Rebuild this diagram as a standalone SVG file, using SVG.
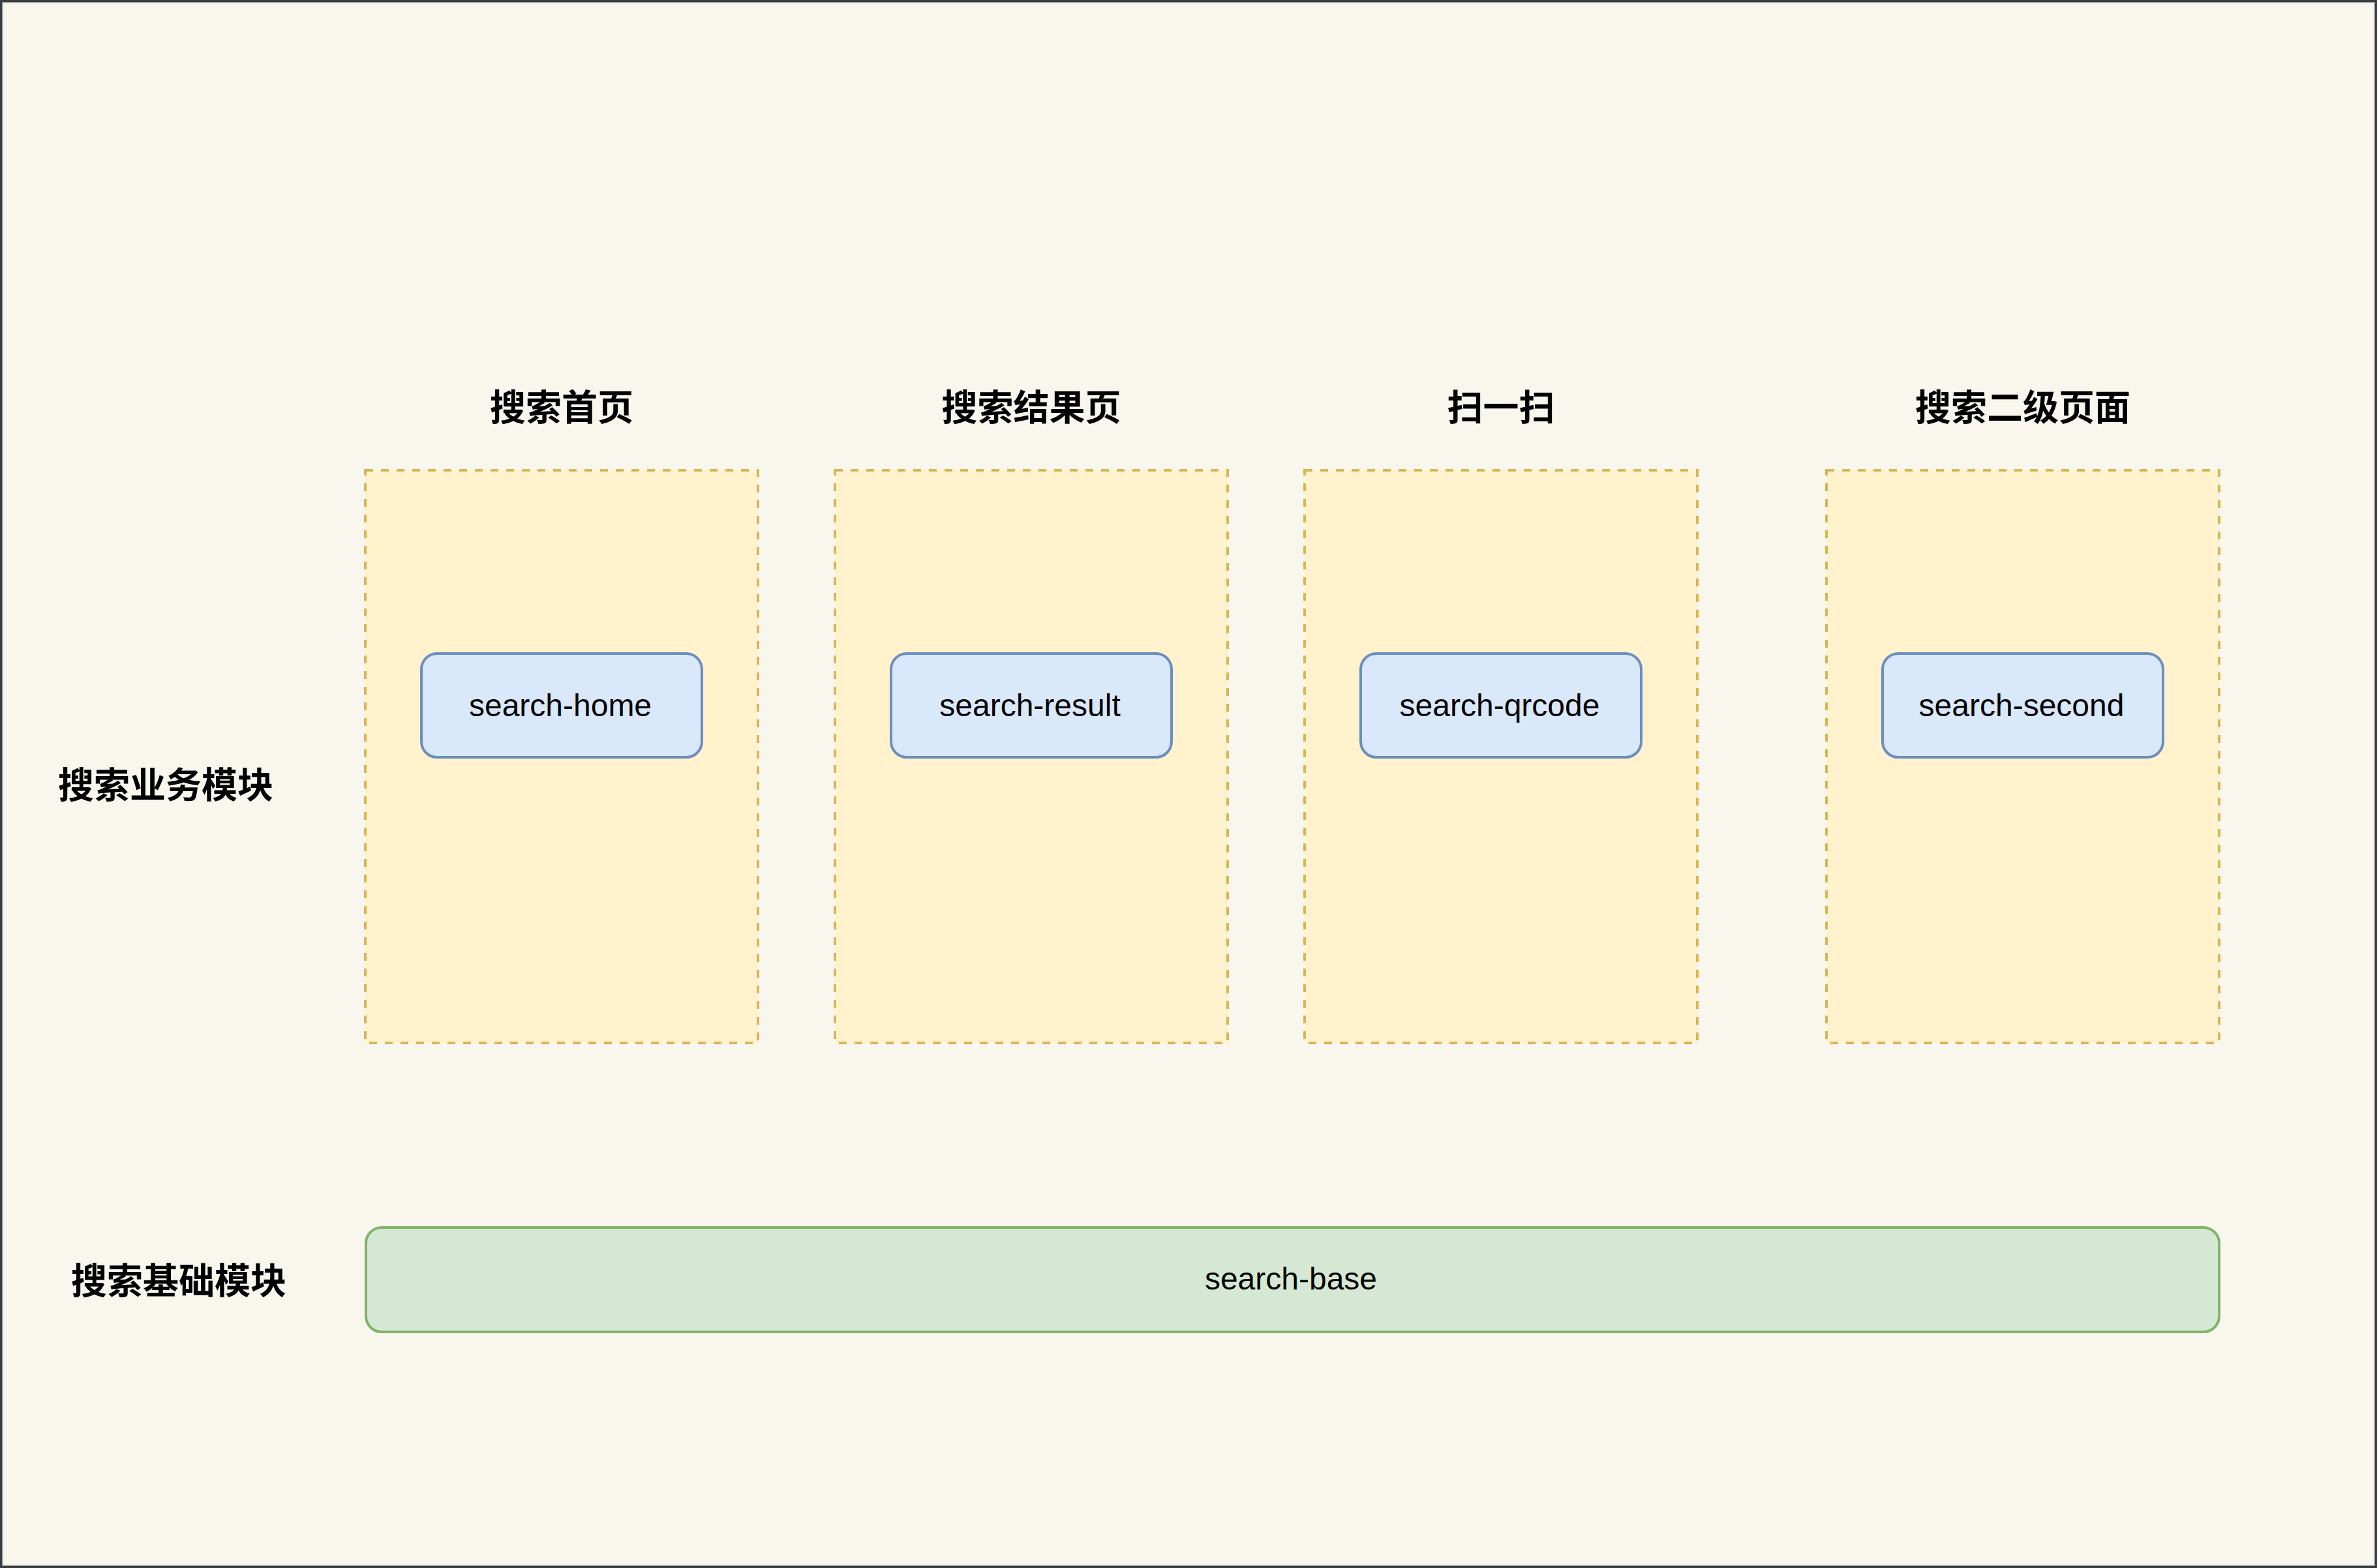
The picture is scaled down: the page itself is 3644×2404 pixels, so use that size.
<svg xmlns="http://www.w3.org/2000/svg" width="3644" height="2404" viewBox="0 0 3644 2404">
<style>
.frame{fill:#f9f6ee;stroke:#b9bcb8;stroke-width:1.5}
.page{fill:#fff2cc;stroke:#d6b656;stroke-width:4;stroke-dasharray:12 12}
.mod{fill:#dae8fc;stroke:#6c8ebf;stroke-width:4}
.base{fill:#d5e8d4;stroke:#82b366;stroke-width:4}
.t{font-family:"Liberation Sans",Arial,sans-serif;font-size:48px;fill:#000;text-anchor:middle;dominant-baseline:central}
.h{font-family:"Noto Sans CJK SC","Noto Sans",sans-serif;font-size:55px;font-weight:bold;fill:#000;text-anchor:middle;dominant-baseline:central}
</style>
<rect x="0" y="0" width="3644" height="2404" fill="#3a3e43"/>
<rect class="frame" x="4" y="4" width="3636" height="2396"/>
<g id="connectors"></g>
<g id="label-business"><text class="h" x="254" y="1199">搜索业务模块</text></g>
<g id="label-base"><text class="h" x="274" y="1959">搜索基础模块</text></g>
<g id="page-home">
<text class="h" x="861" y="620">搜索首页</text>
<rect class="page" x="560" y="721" width="602" height="878"/>
</g>
<g id="page-result">
<text class="h" x="1581" y="620">搜索结果页</text>
<rect class="page" x="1280" y="721" width="602" height="878"/>
</g>
<g id="page-qrcode">
<text class="h" x="2301" y="620">扫一扫</text>
<rect class="page" x="2000" y="721" width="602" height="878"/>
</g>
<g id="page-second">
<text class="h" x="3101" y="620">搜索二级页面</text>
<rect class="page" x="2800" y="721" width="602" height="878"/>
</g>
<g id="search-home"><rect class="mod" x="646" y="1002" width="430" height="159" rx="24"/><text class="t" x="859" y="1081">search-home</text></g>
<g id="search-result"><rect class="mod" x="1366" y="1002" width="430" height="159" rx="24"/><text class="t" x="1579" y="1081">search-result</text></g>
<g id="search-qrcode"><rect class="mod" x="2086" y="1002" width="430" height="159" rx="24"/><text class="t" x="2299" y="1081">search-qrcode</text></g>
<g id="search-second"><rect class="mod" x="2886" y="1002" width="430" height="159" rx="24"/><text class="t" x="3099" y="1081">search-second</text></g>
<g id="search-base"><rect class="base" x="561" y="1882" width="2841" height="160" rx="24"/><text class="t" x="1979" y="1960">search-base</text></g>
</svg>
